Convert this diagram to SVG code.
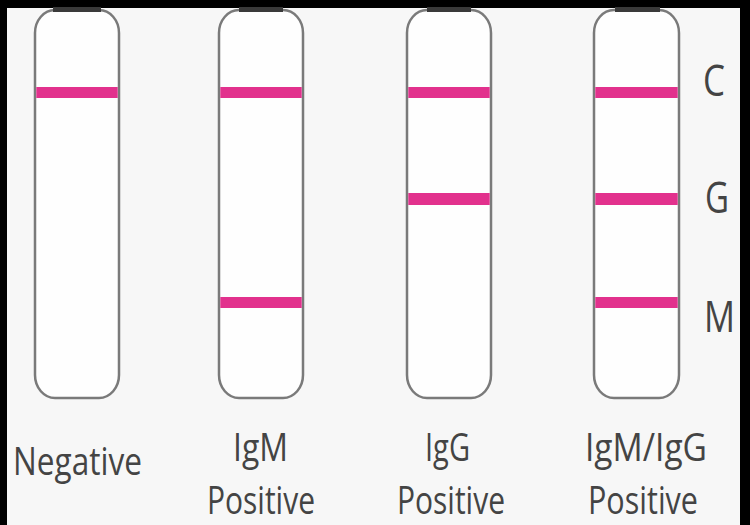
<svg xmlns="http://www.w3.org/2000/svg" width="750" height="525" viewBox="0 0 750 525">
<style>
.strip{fill:#fefefe;stroke:#7a7a7a;stroke-width:2.5}
.cap{fill:#3a3a3a}
.band{fill:#e2318d}
.lbl{font-family:"Open Sans","Liberation Sans",sans-serif;fill:#444;text-anchor:middle;font-size:38px}
.zone{font-family:"Open Sans","Liberation Sans",sans-serif;fill:#444;font-size:43px}
</style>
<rect x="0" y="0" width="750" height="525" fill="#f7f7f7"/>
<rect x="0" y="0" width="750" height="8" fill="#000"/>
<rect x="0" y="0" width="7" height="525" fill="#000"/>
<rect x="740" y="0" width="10" height="525" fill="#000"/>
<g id="strip-negative">
<rect class="strip" x="35" y="10" width="84" height="388" rx="20" ry="23"/>
<rect class="cap" x="53" y="7" width="48" height="5"/>
<rect class="band" x="36.3" y="87" width="81.4" height="11"/>
<text class="lbl" x="77.5" y="475" textLength="129" lengthAdjust="spacingAndGlyphs">Negative</text>
</g>
<g id="strip-igm">
<rect class="strip" x="219" y="10" width="84" height="388" rx="20" ry="23"/>
<rect class="cap" x="239" y="7" width="44" height="5"/>
<rect class="band" x="220.3" y="87" width="81.4" height="11"/>
<rect class="band" x="220.3" y="297" width="81.4" height="11"/>
<text class="lbl" x="260.5" y="461" textLength="55" lengthAdjust="spacingAndGlyphs">IgM</text>
<text class="lbl" x="261" y="514" textLength="108" lengthAdjust="spacingAndGlyphs">Positive</text>
</g>
<g id="strip-igg">
<rect class="strip" x="407" y="10" width="84" height="388" rx="20" ry="23"/>
<rect class="cap" x="427" y="7" width="44" height="5"/>
<rect class="band" x="408.3" y="87" width="81.4" height="11"/>
<rect class="band" x="408.3" y="193" width="81.4" height="12"/>
<text class="lbl" x="447.5" y="461" textLength="45" lengthAdjust="spacingAndGlyphs">IgG</text>
<text class="lbl" x="451" y="514" textLength="108" lengthAdjust="spacingAndGlyphs">Positive</text>
</g>
<g id="strip-igm-igg">
<rect class="strip" x="594" y="10" width="85" height="388" rx="20" ry="23"/>
<rect class="cap" x="615" y="7" width="45" height="5"/>
<rect class="band" x="595.3" y="87" width="82.4" height="11"/>
<rect class="band" x="595.3" y="193" width="82.4" height="12"/>
<rect class="band" x="595.3" y="297" width="82.4" height="11"/>
<text class="lbl" x="646" y="461" textLength="122" lengthAdjust="spacingAndGlyphs">IgM/IgG</text>
<text class="lbl" x="643" y="514" textLength="110" lengthAdjust="spacingAndGlyphs">Positive</text>
</g>
<g id="zones">
<text class="zone" x="703" y="96" textLength="22" lengthAdjust="spacingAndGlyphs">C</text>
<text class="zone" x="705" y="213" textLength="24" lengthAdjust="spacingAndGlyphs">G</text>
<text class="zone" x="704" y="332" textLength="31" lengthAdjust="spacingAndGlyphs">M</text>
</g>
<g id="connectors"/>
</svg>
